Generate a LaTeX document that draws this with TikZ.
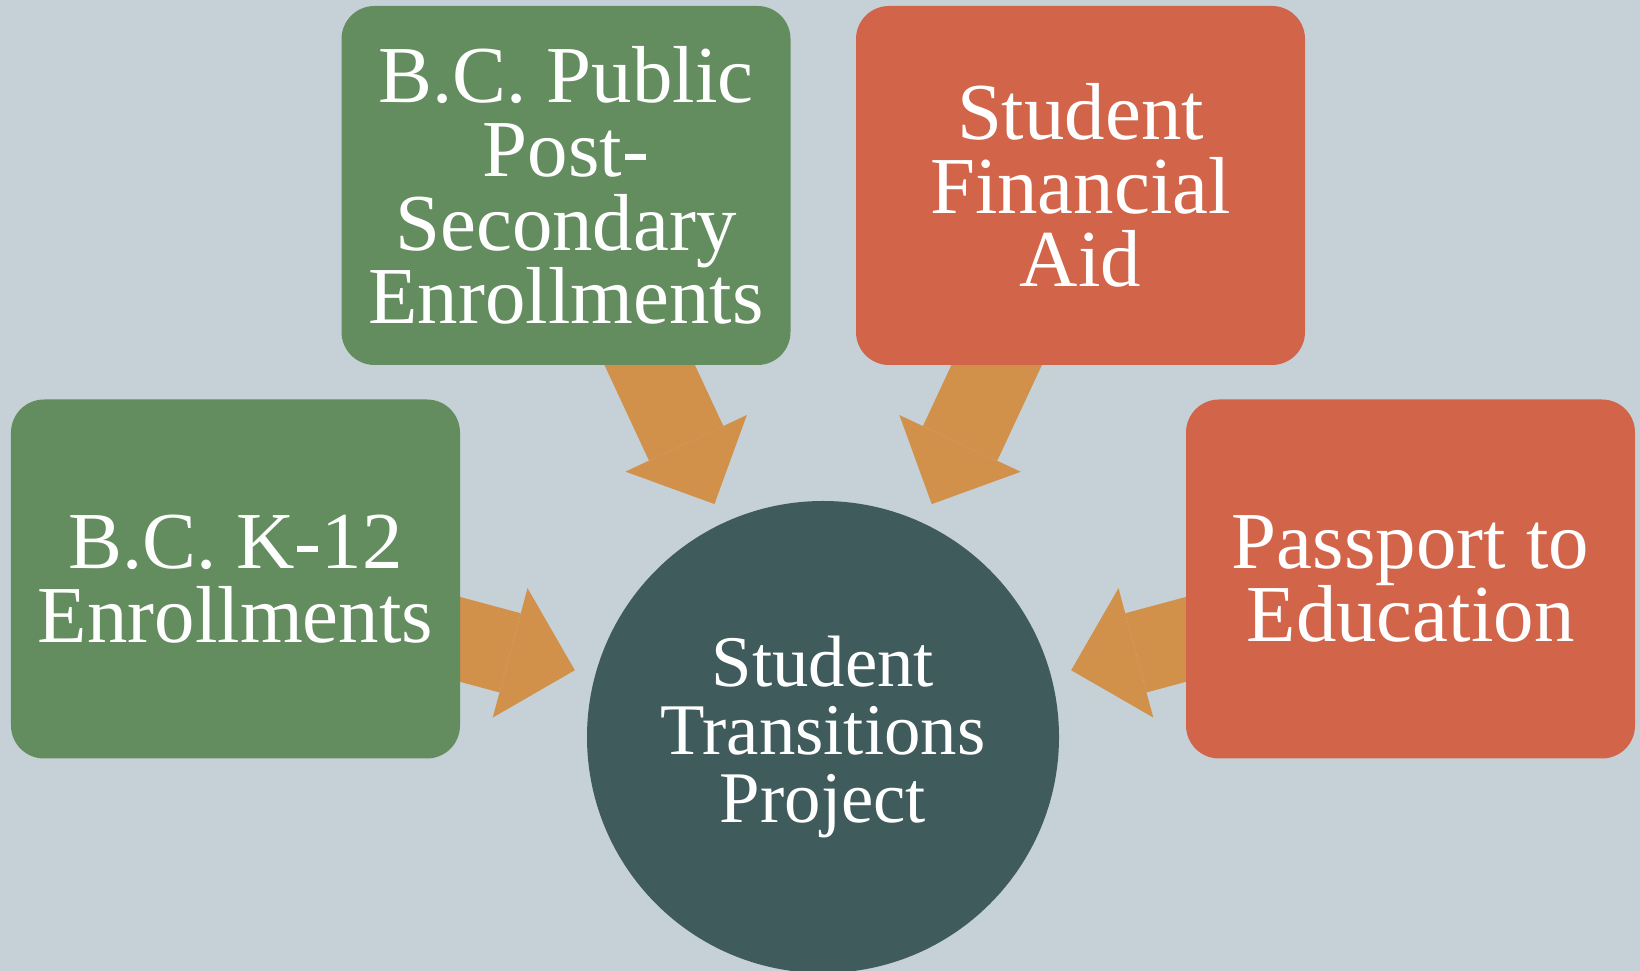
\documentclass[tikz,border=0pt]{standalone}
\usepackage{fontspec}
\setmainfont{Liberation Serif}
\usepackage{tikz}
\usetikzlibrary{arrows.meta, calc}

\pgfdeclarelayer{backdrop}
\pgfdeclarelayer{links}
\pgfsetlayers{backdrop,links,main}

\definecolor{bgblue}{HTML}{C5D1D7}
\definecolor{k12green}{HTML}{638C5F}
\definecolor{aidred}{HTML}{D2644A}
\definecolor{flowtan}{HTML}{D1914A}
\definecolor{stpslate}{HTML}{405B5C}

\tikzset{
  box/.style={rectangle, rounded corners=0.33cm, minimum width=4.49cm, minimum height=3.59cm,
    inner sep=0pt, align=center, text=white, font=\fontsize{23}{21}\selectfont},
  hub/.style={circle, fill=stpslate, minimum size=4.72cm, inner sep=0pt, align=center,
    text=white, font=\fontsize{20.7}{19.3}\selectfont},
  flow/.style={draw=flowtan, line width=0.82cm, shorten >=2.57cm,
    -{Triangle[length=0.67cm, width=1.34cm, line width=0pt]}}
}

\begin{document}
\begin{tikzpicture}
  % Page
  \begin{pgfonlayer}{backdrop}
    \fill[bgblue] (0,0) rectangle (16.4,-9.71);
  \end{pgfonlayer}
  \useasboundingbox (0,0) rectangle (16.4,-9.71);

  % Centre circle
  \node[hub] (stp) at (8.23,-7.37) {Student\\Transitions\\Project};

  % Source boxes
  \node[box, fill=k12green, node distance=5.875cm, left of=stp, yshift=1.58cm] (k12) {B.C. K-12\\Enrollments};
  \node[box, fill=k12green, node distance=5.515cm, above of=stp, xshift=-2.57cm] (pub) {B.C. Public\\Post-\\Secondary\\Enrollments};
  \node[box, fill=aidred, node distance=5.515cm, above of=stp, xshift=2.575cm] (aid) {Student\\Financial\\Aid};
  \node[box, fill=aidred, node distance=5.875cm, right of=stp, yshift=1.58cm] (pass) {Passport to\\Education};

  % Arrows into the project
  \begin{pgfonlayer}{links}
    \draw[flow] (k12.center) -- (stp.center);
    \draw[flow] (pub.center) -- (stp.center);
    \draw[flow] (aid.center) -- (stp.center);
    \draw[flow] (pass.center) -- (stp.center);
  \end{pgfonlayer}
\end{tikzpicture}
\end{document}
